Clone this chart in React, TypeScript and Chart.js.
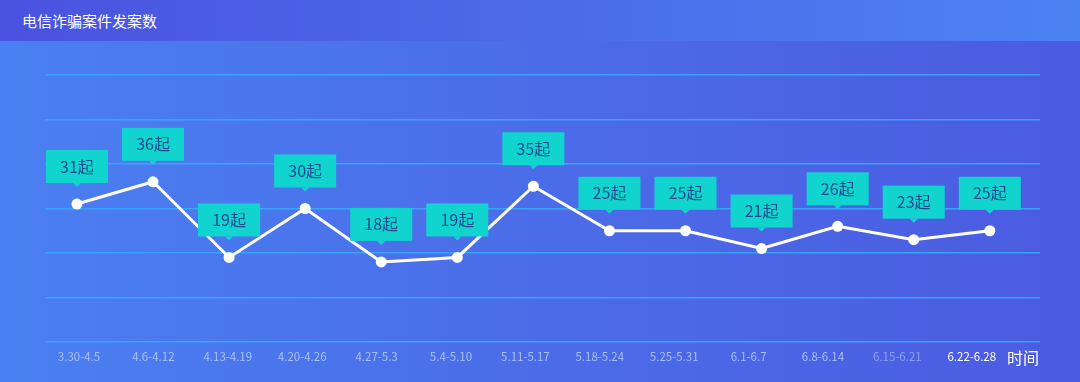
import React, { useEffect, useRef } from "react";
import { Chart, registerables } from "chart.js";

Chart.register(...registerables);

const categories = [
  "3.30-4.5", "4.6-4.12", "4.13-4.19", "4.20-4.26", "4.27-5.3", "5.4-5.10", "5.11-5.17",
  "5.18-5.24", "5.25-5.31", "6.1-6.7", "6.8-6.14", "6.15-6.21", "6.22-6.28",
];
const cases = [31, 36, 19, 30, 18, 19, 35, 25, 25, 21, 26, 23, 25];
const yTicks = [0, 10, 20, 30, 40, 50, 60];
const titleText = "电信诈骗案件发案数";
const axisName = "时间";
const unit = "起";

const FONT = "'Noto Sans CJK SC', 'Noto Sans', sans-serif";

const labelPlugin = {
  id: "boxLabels",
  afterDatasetsDraw(chart: any) {
    const ctx = chart.ctx;
    const meta = chart.getDatasetMeta(0);
    ctx.save();
    meta.data.forEach((pt: any, i: number) => {
      const x = pt.x;
      const y = pt.y;
      const w = 62;
      const h = 33;
      const bottom = y - 21;
      const top = bottom - h;
      ctx.fillStyle = "#12d4cf";
      ctx.fillRect(x - w / 2, top, w, h);
      ctx.beginPath();
      ctx.moveTo(x - 4, bottom);
      ctx.lineTo(x + 4, bottom);
      ctx.lineTo(x, bottom + 4);
      ctx.closePath();
      ctx.fill();
      ctx.fillStyle = "#1f4a8f";
      ctx.font = "16px " + FONT;
      ctx.textAlign = "center";
      ctx.textBaseline = "middle";
      ctx.fillText(cases[i] + unit, x, top + h / 2);
    });
    ctx.fillStyle = "#ffffff";
    ctx.font = "16px " + FONT;
    ctx.textAlign = "left";
    ctx.textBaseline = "middle";
    ctx.fillText(axisName, 1007, 358);
    ctx.restore();
  },
};

export default function App() {
  const ref = useRef<HTMLCanvasElement | null>(null);
  useEffect(() => {
    document.body.style.margin = "0";
    if (!ref.current) return;
    const points = cases.map((v, i) => ({ x: i, y: v }));
    const chart = new Chart(ref.current, {
      type: "line",
      data: {
        datasets: [
          {
            data: points,
            xAxisID: "x",
            borderColor: "#ffffff",
            borderWidth: 3,
            pointRadius: 5.5,
            pointBackgroundColor: "#ffffff",
            pointBorderColor: "#ffffff",
            pointBorderWidth: 0,
            tension: 0,
          },
        ],
      },
      options: {
        animation: false,
        responsive: false,
        maintainAspectRatio: false,
        layout: { padding: { left: 45, right: 40, top: 75, bottom: 0 } },
        plugins: { legend: { display: false }, tooltip: { enabled: false }, title: { display: false } },
        scales: {
          x: {
            type: "linear",
            display: false,
            min: -0.42,
            max: 12.66,
          },
          x2: {
            type: "linear",
            position: "bottom",
            min: -0.457,
            max: 12.917,
            grid: { display: false },
            border: { display: false },
            afterBuildTicks: (axis: any) => {
              axis.ticks = categories.map((_, i) => ({ value: i }));
            },
            afterFit: (axis: any) => {
              axis.height = 40;
            },
            ticks: {
              autoSkip: false,
              maxRotation: 0,
              padding: 0,
              font: { size: 11.5, family: FONT },
              color: (c: any) => {
                const i = c.index;
                if (i === categories.length - 1) return "#ffffff";
                if (i === categories.length - 2) return "rgba(160,180,240,0.75)";
                return "rgba(185,205,250,0.85)";
              },
              callback: (v: any) => categories[Number(v)] ?? "",
            },
          },
          y: {
            min: yTicks[0],
            max: yTicks[yTicks.length - 1],
            afterBuildTicks: (axis: any) => {
              axis.ticks = yTicks.map((v) => ({ value: v }));
            },
            ticks: { display: false },
            border: { display: false },
            grid: { color: "#3aa2ff", lineWidth: 1.6, drawTicks: false },
          },
        },
      },
      plugins: [labelPlugin],
    });
    return () => chart.destroy();
  }, []);

  return (
    <div
      style={{
        position: "relative",
        width: 1080,
        height: 382,
        overflow: "hidden",
        background: "linear-gradient(90deg, #4a80f1 0%, #4b6ee9 45%, #4b5be2 100%)",
      }}
    >
      <div
        style={{
          position: "absolute",
          left: 0,
          top: 0,
          width: 1080,
          height: 41,
          background: "linear-gradient(90deg, #4a52df 0%, #4b66e8 40%, #4d82f3 100%)",
          color: "#ffffff",
          fontFamily: FONT,
          fontSize: 15,
          lineHeight: "41px",
          paddingLeft: 22,
          boxSizing: "border-box",
        }}
      >
        {titleText}
      </div>
      <canvas ref={ref} width={1080} height={382} style={{ position: "absolute", left: 0, top: 0 }} />
    </div>
  );
}
